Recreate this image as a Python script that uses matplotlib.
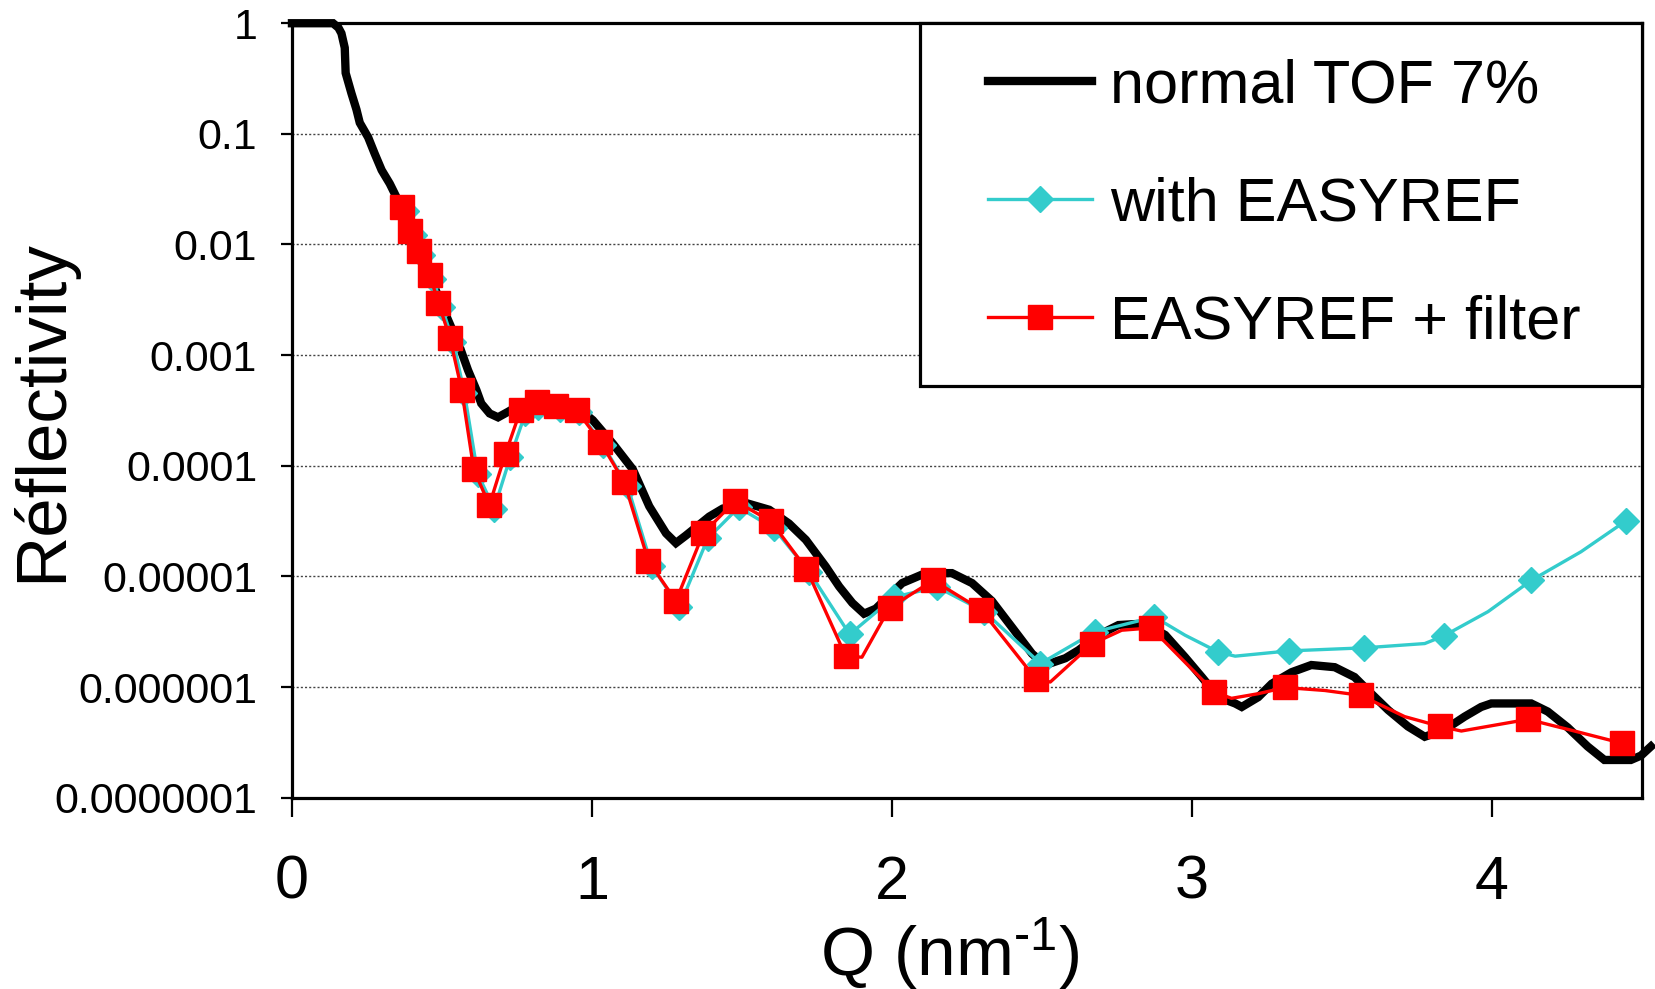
import numpy as np
import matplotlib
matplotlib.use("Agg")
import matplotlib.pyplot as plt
from matplotlib.lines import Line2D
from matplotlib.legend_handler import HandlerLine2D

plt.rcParams['font.family'] = ['Liberation Sans', 'DejaVu Sans']
plt.rcParams['mathtext.default'] = 'regular'

# normal TOF 7% (black)
q_tof = [0.0, 0.137, 0.155, 0.165, 0.176, 0.179, 0.198, 0.215, 0.226, 0.254,
         0.276, 0.299, 0.326, 0.348, 0.40, 0.45, 0.520, 0.559, 0.587, 0.615,
         0.631, 0.659, 0.687, 0.72, 0.76, 0.82, 0.88, 0.95, 1.003, 1.07,
         1.136, 1.191, 1.247, 1.28, 1.313, 1.391, 1.436, 1.514, 1.591, 1.657,
         1.713, 1.779, 1.824, 1.868, 1.907, 1.946, 2.034, 2.112, 2.2, 2.267,
         2.333, 2.4, 2.467, 2.511, 2.578, 2.622, 2.689, 2.755, 2.844, 2.911,
         2.977, 3.033, 3.088, 3.144, 3.166, 3.221, 3.266, 3.332, 3.398, 3.476,
         3.542, 3.587, 3.654, 3.72, 3.776, 3.842, 3.909, 3.964, 3.998, 4.131,
         4.186, 4.253, 4.319, 4.375, 4.463, 4.497, 4.53]
r_tof = [1.0, 1.0, 0.91, 0.81, 0.60, 0.355, 0.234, 0.166, 0.126, 0.093,
         0.066, 0.047, 0.0355, 0.0269, 0.0126, 0.006, 0.00209, 0.00119, 0.00073, 4.82e-4,
         3.66e-4, 2.97e-4, 2.74e-4, 3.07e-4, 3.55e-4, 3.98e-4, 3.89e-4, 3.39e-4, 2.58e-4, 1.58e-4,
         9.3e-5, 4.3e-5, 2.45e-5, 2.0e-5, 2.34e-5, 3.47e-5, 4.1e-5, 4.6e-5, 4.0e-5, 3.0e-5,
         2.14e-5, 1.23e-5, 8.1e-6, 5.75e-6, 4.6e-6, 5.1e-6, 8.7e-6, 1.07e-5, 1.07e-5, 8.7e-6,
         6.0e-6, 3.47e-6, 2.0e-6, 1.58e-6, 1.82e-6, 2.15e-6, 2.95e-6, 3.63e-6, 3.75e-6, 2.95e-6,
         1.86e-6, 1.23e-6, 8.1e-7, 7.1e-7, 6.6e-7, 8.1e-7, 1.07e-6, 1.36e-6, 1.58e-6, 1.51e-6,
         1.23e-6, 9.3e-7, 6.2e-7, 4.4e-7, 3.55e-7, 4.1e-7, 5.4e-7, 6.6e-7, 7.1e-7, 7.1e-7,
         6.0e-7, 4.3e-7, 2.9e-7, 2.19e-7, 2.19e-7, 2.4e-7, 2.9e-7]

# with EASYREF (cyan)
q_easy = [0.379, 0.406, 0.433, 0.471, 0.499, 0.538, 0.575, 0.619, 0.674, 0.728,
          0.778, 0.82, 0.892, 0.958, 1.036, 1.119, 1.20, 1.291, 1.386, 1.489,
          1.607, 1.724, 1.859, 2.007, 2.151, 2.308, 2.495, 2.678, 2.875, 2.977,
          3.088, 3.144, 3.323, 3.575, 3.776, 3.84, 3.987, 4.131, 4.297, 4.447]
r_easy = [0.0200, 0.01225, 0.00807, 0.0049, 0.00275, 0.00131, 4.53e-4, 8.5e-5, 4.1e-5, 1.2e-4,
          2.97e-4, 3.41e-4, 3.27e-4, 3.09e-4, 1.55e-4, 6.5e-5, 1.23e-5, 5.3e-6, 2.2e-5, 4.2e-5,
          2.71e-5, 1.1e-5, 2.99e-6, 6.5e-6, 8.0e-6, 4.8e-6, 1.63e-6, 3.16e-6, 4.3e-6, 2.94e-6,
          2.07e-6, 1.9e-6, 2.12e-6, 2.26e-6, 2.47e-6, 2.9e-6, 4.8e-6, 9.2e-6, 1.67e-5, 3.18e-5]
mark_easy = [0, 1, 2, 3, 4, 5, 6, 7, 8, 9, 10, 11, 12, 13, 14, 15, 16, 17, 18, 19,
             20, 21, 22, 23, 24, 25, 26, 27, 28, 30, 32, 33, 35, 37, 39]

# EASYREF + filter (red)
q_filt = [0.368, 0.395, 0.422, 0.460, 0.488, 0.527, 0.566, 0.606, 0.658, 0.712,
          0.762, 0.816, 0.881, 0.949, 1.028, 1.108, 1.188, 1.28, 1.371, 1.477,
          1.596, 1.715, 1.846, 1.90, 1.992, 2.138, 2.297, 2.481, 2.528, 2.667,
          2.766, 2.864, 3.075, 3.132, 3.221, 3.31, 3.443, 3.563, 3.709, 3.828,
          3.898, 4.12, 4.275, 4.434]
r_filt = [0.0216, 0.0132, 0.0087, 0.00528, 0.00297, 0.00142, 4.82e-4, 9.3e-5, 4.4e-5, 1.29e-4,
          3.18e-4, 3.8e-4, 3.47e-4, 3.18e-4, 1.64e-4, 7.1e-5, 1.38e-5, 6.0e-6, 2.45e-5, 4.8e-5,
          3.16e-5, 1.17e-5, 1.9e-6, 1.86e-6, 5.2e-6, 9.2e-6, 5.0e-6, 1.17e-6, 1.11e-6, 2.45e-6,
          3.26e-6, 3.42e-6, 9.0e-7, 7.9e-7, 8.7e-7, 9.9e-7, 9.3e-7, 8.4e-7, 5.4e-7, 4.4e-7,
          4.0e-7, 5.1e-7, 4.0e-7, 3.1e-7]
mark_filt = [0, 1, 2, 3, 4, 5, 6, 7, 8, 9, 10, 11, 12, 13, 14, 15, 16, 17, 18, 19,
             20, 21, 22, 24, 25, 26, 27, 29, 31, 32, 35, 37, 39, 41, 43]

y_ticks = [1, 0.1, 0.01, 0.001, 0.0001, 0.00001, 0.000001, 0.0000001]
y_labels = ['1', '0.1', '0.01', '0.001', '0.0001', '0.00001', '0.000001', '0.0000001']
x_ticks = [0, 1, 2, 3, 4]

cyan = '#33CCCC'
red = '#FF0000'

fig = plt.figure(figsize=(16.56, 9.89), dpi=100)
ax = fig.add_axes([0.1763, 0.1935, 0.8152, 0.783])

ax.plot(q_tof, r_tof, color='black', lw=6, solid_joinstyle='miter', clip_on=False, zorder=3)
ax.plot(q_easy, r_easy, color=cyan, lw=2.4, marker='D', ms=13, mec=cyan, mfc=cyan,
        markevery=mark_easy, zorder=4)
ax.plot(q_filt, r_filt, color=red, lw=2.4, marker='s', ms=17, mec=red, mfc=red,
        markevery=mark_filt, zorder=5)

ax.set_yscale('log')
ax.set_xlim(0, 4.5)
ax.set_ylim(1e-7, 1)
ax.set_yticks(y_ticks)
ax.set_yticklabels(y_labels)
ax.minorticks_off()
ax.set_xticks(x_ticks)
ax.set_xticklabels([str(t) for t in x_ticks])

ax.grid(axis='y', color='#444444', lw=1.0, linestyle=(0, (1.5, 1.5)))
ax.set_axisbelow(True)
for s in ax.spines.values():
    s.set_linewidth(2.3)

ax.tick_params(axis='y', direction='out', length=8, width=1.6, labelsize=31, pad=17)
ax.tick_params(axis='x', direction='out', length=14, width=1.6, labelsize=44, pad=27)

ax.set_ylabel('Réflectivity', fontsize=51)
ax.yaxis.set_label_coords(-0.16, 0.5)
ax.set_xlabel('Q (nm$^{\u20101}$)', fontsize=50)
ax.xaxis.set_label_coords(0.487, -0.152)

handles = [
    Line2D([], [], color='black', lw=6),
    Line2D([], [], color=cyan, lw=2.4, marker='D', ms=13),
    Line2D([], [], color=red, lw=2.4, marker='s', ms=17),
]
labels = ['normal TOF 7%', 'with EASYREF', 'EASYREF + filter']
leg = ax.legend(handles, labels, loc='upper left', bbox_to_anchor=(0.465, 0.5367, 0.535, 0.4633),
                mode='expand', borderaxespad=0, fontsize=44, frameon=True, fancybox=False,
                framealpha=1, edgecolor='black', handlelength=2.25, handletextpad=0.3,
                labelspacing=1.0, borderpad=0.57,
                handler_map={Line2D: HandlerLine2D(xpad=0.55)})
leg.get_frame().set_linewidth(2.3)
leg.set_zorder(10)

fig.savefig('out.png', dpi=100)
